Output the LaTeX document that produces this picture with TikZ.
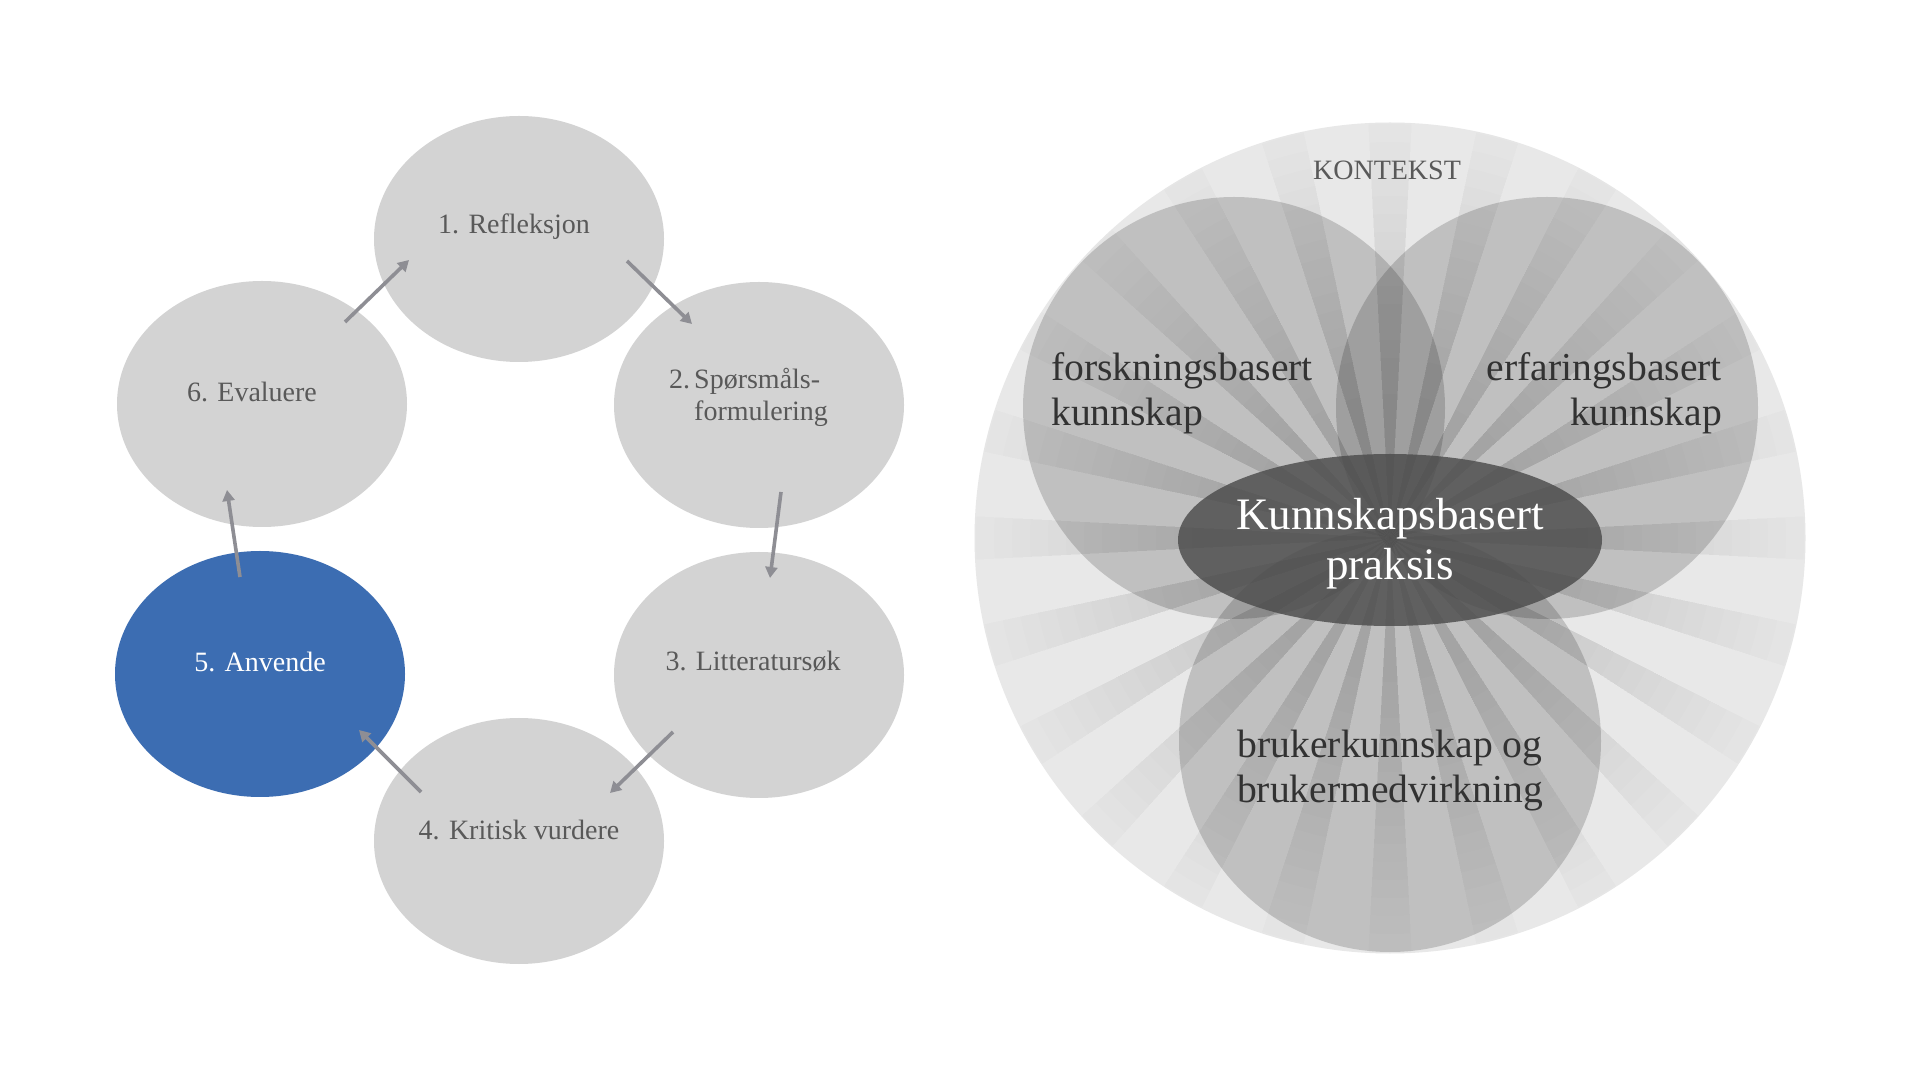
\documentclass[tikz,border=0pt]{standalone}
\usepackage{fontspec}
\setmainfont{Liberation Serif}
\usetikzlibrary{shapes.geometric,arrows.meta,calc}
\definecolor{ellgray}{RGB}{211,211,211}
\definecolor{stepblue}{RGB}{60,109,178}
\definecolor{labelgray}{RGB}{89,89,89}
\definecolor{arrowgray}{RGB}{142,142,148}
\definecolor{ctxgray}{RGB}{232,232,232}
\definecolor{darktext}{RGB}{50,50,50}
\definecolor{coregray}{RGB}{75,75,75}
\begin{document}
\begin{tikzpicture}[x=1pt,y=1pt,
  stepell/.style={ellipse, fill=ellgray, minimum width=290pt, minimum height=246pt, inner sep=0pt},
  steplabel/.style={text=labelgray, font=\fontsize{28}{32}\selectfont, inner sep=0pt, anchor=base},
  cyclearrow/.style={draw=arrowgray, line width=3.6pt, -{Triangle[length=11pt,width=12pt]}},
  knowcircle/.style={circle, fill=black, fill opacity=0.17, minimum size=422pt, inner sep=0pt},
  bigtext/.style={text=darktext, font=\fontsize{39.6}{45}\selectfont, inner sep=0pt},
]
\useasboundingbox (0,0) rectangle (1920,1080);
\fill[white] (0,0) rectangle (1920,1080);

% ---------- left cycle ----------
\node[stepell] (e1) at (519,841) {};
\node[stepell] (e2) at (759,675) {};
\node[stepell] (e3) at (759,405) {};
\node[stepell] (e4) at (519,239) {};
\node[stepell, fill=stepblue] (e5) at (260,406) {};
\node[stepell] (e6) at (262,676) {};

\node[steplabel] (l1) at (514,846) {1. Refleksjon};
\node[steplabel, anchor=base west] (l2) at (669,691) {\begin{tabular}[t]{@{}l@{\hspace{4pt}}l@{}}2.&Spørsmåls-\\&formulering\end{tabular}};
\node[steplabel] (l3) at (753,409) {3. Litteratursøk};
\node[steplabel] (l4) at (519,241) {4. Kritisk vurdere};
\node[steplabel, text=white] (l5) at (260,408) {5. Anvende};
\node[steplabel] (l6) at (252,678) {6. Evaluere};

\coordinate (s12) at (627,819); \coordinate (t12) at (692,756);
\coordinate (s23) at (781,588); \coordinate (t23) at (770,502);
\coordinate (s34) at (673,348); \coordinate (t34) at (610,287);
\coordinate (s45) at (421,288); \coordinate (t45) at (359,350);
\coordinate (s56) at (240,503); \coordinate (t56) at (227,590);
\coordinate (s61) at (345,758); \coordinate (t61) at (409,820);
\draw[cyclearrow] (s12) -- (t12);
\draw[cyclearrow] (s23) -- (t23);
\draw[cyclearrow] (s34) -- (t34);
\draw[cyclearrow] (s45) -- (t45);
\draw[cyclearrow] (s56) -- (t56);
\draw[cyclearrow] (s61) -- (t61);

% ---------- right diagram ----------
\node[circle, fill=ctxgray, minimum size=831pt, inner sep=0pt] (ctx) at (1390,542) {};
\begin{scope}
  \clip (1390,542) circle[radius=415.5];
  \begin{scope}[shift={(1390,542)}]
    \foreach \a in {0,15,...,345} {
      \foreach \k in {8,...,24} {
        \fill[black, opacity=0.009] (0,0) -- (\a-3:{\k*18}) arc[start angle=\a-3, end angle=\a+3, radius={\k*18}] -- cycle;
      }
    }
  \end{scope}
\end{scope}

\node[knowcircle] (c1) at (1234,672) {};
\node[knowcircle] (c2) at (1547,672) {};
\node[knowcircle] (c3) at (1390,339) {};
\node[ellipse, fill=coregray, fill opacity=0.82, minimum width=424pt, minimum height=172pt, inner sep=0pt] (core) at (1390,540) {};

\node[text=labelgray, font=\fontsize{28}{32}\selectfont, inner sep=0pt, anchor=base] (ctxlabel) at (1387,900) {KONTEKST};
\node[bigtext, anchor=base west] (t1) at (1051,699) {\begin{tabular}[t]{@{}l@{}}forskningsbasert\\kunnskap\end{tabular}};
\node[bigtext, anchor=base east] (t2) at (1722,699) {\begin{tabular}[t]{@{}r@{}}erfaringsbasert\\kunnskap\end{tabular}};
\node[bigtext, anchor=base] (t3) at (1390,322) {\begin{tabular}[t]{@{}c@{}}brukerkunnskap og\\brukermedvirkning\end{tabular}};
\node[text=white, font=\fontsize{45}{50}\selectfont, inner sep=0pt, anchor=base] (t4) at (1390,550) {\begin{tabular}[t]{@{}c@{}}Kunnskapsbasert\\praksis\end{tabular}};
\end{tikzpicture}
\end{document}
